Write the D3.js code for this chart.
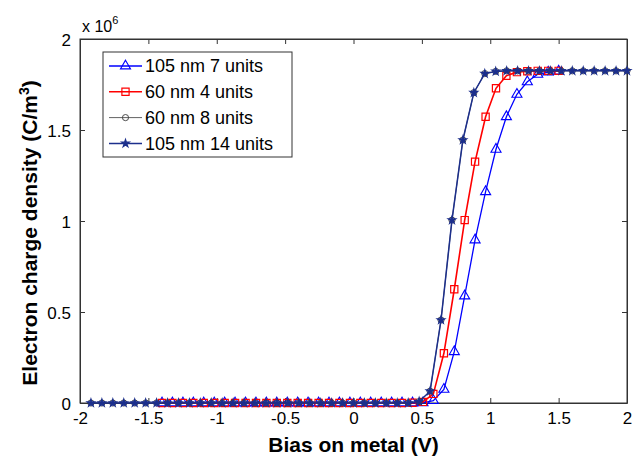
<!DOCTYPE html>
<html>
<head>
<meta charset="utf-8">
<script src="https://cdn.jsdelivr.net/npm/d3@7"></script>
<style>
  html, body { margin: 0; padding: 0; background: #fff; }
  svg { display: block; font-family: Arial, "Liberation Sans", sans-serif; }
</style>
</head>
<body>
<svg id="chart" width="633" height="456"></svg>
<script>
// ---------------- data (charge density in units of 1e6 C/m^3) ----------------
const xTicks = [-2, -1.5, -1, -0.5, 0, 0.5, 1, 1.5, 2];
const xTickLabels = ["-2", "-1.5", "-1", "-0.5", "0", "0.5", "1", "1.5", "2"];
const yTicks = [0, 0.5, 1, 1.5, 2];
const yTickLabels = ["0", "0.5", "1", "1.5", "2"];

// bias grid for 60 nm / 105 nm 7 units runs
const biasA = [-1.4, -1.324, -1.247, -1.171, -1.095, -1.018, -0.942, -0.866, -0.789, -0.713,
               -0.637, -0.561, -0.484, -0.408, -0.332, -0.255, -0.179, -0.103, -0.026, 0.05,
               0.126, 0.203, 0.279, 0.355, 0.432, 0.508, 0.584, 0.661, 0.737, 0.813,
               0.889, 0.966, 1.042, 1.118, 1.195, 1.271, 1.347, 1.424, 1.5];
// bias grid for the wider runs
const biasB = [-1.92, -1.84, -1.76, -1.68, -1.6, -1.52, -1.44, -1.36, -1.28, -1.2,
               -1.12, -1.04, -0.96, -0.88, -0.8, -0.72, -0.64, -0.56, -0.48, -0.4,
               -0.32, -0.24, -0.16, -0.08, 0, 0.08, 0.16, 0.24, 0.32, 0.4,
               0.48, 0.56, 0.64, 0.72, 0.8, 0.88, 0.96, 1.04, 1.12, 1.2,
               1.28, 1.36, 1.44, 1.52, 1.6, 1.68, 1.76, 1.84, 1.92, 2.0];

const nm105u7 = [0, 0, 0, 0, 0, 0, 0, 0, 0, 0,
                 0, 0, 0, 0, 0, 0, 0, 0, 0, 0,
                 0, 0, 0, 0, 0, 0.001, 0.013, 0.075, 0.282, 0.588,
                 0.896, 1.161, 1.394, 1.573, 1.696, 1.765, 1.806, 1.818, 1.823];
const nm60u4 = [0, 0, 0, 0, 0, 0, 0, 0, 0, 0,
                0, 0, 0, 0, 0, 0, 0, 0, 0, 0,
                0, 0, 0, 0, 0.001, 0.006, 0.05, 0.273, 0.625, 1.005,
                1.326, 1.573, 1.729, 1.798, 1.818, 1.823, 1.825, 1.825, 1.825];
const nm60u8 = [0, 0, 0, 0, 0, 0, 0, 0, 0, 0,
                0, 0, 0, 0, 0, 0, 0, 0, 0, 0,
                0, 0, 0, 0, 0, 0, 0, 0, 0, 0,
                0.008, 0.065, 0.456, 1.005, 1.445, 1.705, 1.81, 1.822, 1.825, 1.825,
                1.825, 1.825, 1.825, 1.825, 1.825, 1.825, 1.825, 1.825, 1.825, 1.825];
const nm105u14 = [0, 0, 0, 0, 0, 0, 0, 0, 0, 0,
                  0, 0, 0, 0, 0, 0, 0, 0, 0, 0,
                  0, 0, 0, 0, 0, 0, 0, 0, 0, 0,
                  0.008, 0.065, 0.456, 1.005, 1.445, 1.705, 1.81, 1.822, 1.825, 1.825,
                  1.825, 1.825, 1.825, 1.825, 1.825, 1.825, 1.825, 1.825, 1.825, 1.825];

const seriesNames = ["105 nm 7 units", "60 nm 4 units", "60 nm 8 units", "105 nm 14 units"];
const seriesColors = ["#0000ff", "#ff0000", "#3a3a3a", "#1c2f8c"];

// ---------------- layout ----------------
const svg = d3.select("#chart");
const L = 80, R = 627, T = 39, B = 403;
const x = d3.scaleLinear().domain([-2, 2]).range([L, R]);
const y = d3.scaleLinear().domain([0, 2]).range([B, T]);
const axisColor = "#333";

const series = [
  { name: seriesNames[0], color: seriesColors[0], xs: biasA, ys: nm105u7, sym: d3.symbolTriangle, size: 44, fill: "none", lw: 1.3, mlw: 1.1 },
  { name: seriesNames[1], color: seriesColors[1], xs: biasA, ys: nm60u4, sym: d3.symbolSquare, size: 52, fill: "none", lw: 1.6, mlw: 1.2 },
  { name: seriesNames[2], color: seriesColors[2], xs: biasB, ys: nm60u8, sym: d3.symbolCircle, size: 30, fill: "none", lw: 0.8, mlw: 0.9 },
  { name: seriesNames[3], color: seriesColors[3], xs: biasB, ys: nm105u14, sym: d3.symbolStar, size: 18, fill: seriesColors[3], lw: 1.5, mlw: 1.2 }
];

// box
svg.append("rect").attr("x", L).attr("y", T).attr("width", R - L).attr("height", B - T)
  .attr("fill", "#fff").attr("stroke", axisColor).attr("stroke-width", 1);

// ticks (inward on all sides) via d3 axes
const xAxisB = d3.axisBottom(x).tickValues(xTicks).tickFormat((d, i) => xTickLabels[i]).tickSizeInner(-5).tickSizeOuter(0).tickPadding(9);
const gxb = svg.append("g").attr("transform", `translate(0,${B})`).call(xAxisB);
const gxt = svg.append("g").attr("transform", `translate(0,${T})`).call(d3.axisTop(x).tickValues(xTicks).tickFormat("").tickSizeInner(-5).tickSizeOuter(0));
const yAxisL = d3.axisLeft(y).tickValues(yTicks).tickFormat((d, i) => yTickLabels[i]).tickSizeInner(-5).tickSizeOuter(0).tickPadding(9);
const gyl = svg.append("g").attr("transform", `translate(${L},0)`).call(yAxisL);
const gyr = svg.append("g").attr("transform", `translate(${R},0)`).call(d3.axisRight(y).tickValues(yTicks).tickFormat("").tickSizeInner(-5).tickSizeOuter(0));
[gxb, gxt, gyl, gyr].forEach(g => {
  g.select(".domain").attr("stroke", axisColor);
  g.selectAll(".tick line").attr("stroke", axisColor);
  g.selectAll("text").attr("fill", "#000").style("font-size", "17px").style("font-family", "Arial, 'Liberation Sans', sans-serif");
});
gyl.selectAll("text").attr("dy", "0.36em");

// exponent label
const ex = svg.append("text").attr("x", 82).attr("y", 32).style("font-size", "16px").attr("fill", "#000");
ex.append("tspan").text("x 10");
ex.append("tspan").attr("dy", -8).style("font-size", "11px").text("6");

// lines and markers
series.forEach(s => {
  const pts = s.xs.map((v, i) => [v, s.ys[i]]);
  svg.append("path").datum(pts)
    .attr("d", d3.line().x(d => x(d[0])).y(d => y(d[1])))
    .attr("fill", "none").attr("stroke", s.color).attr("stroke-width", s.lw);
  svg.append("g").selectAll("path").data(pts).join("path")
    .attr("transform", d => `translate(${x(d[0])},${y(d[1])})`)
    .attr("d", d3.symbol().type(s.sym).size(s.size))
    .attr("fill", s.fill === "none" ? "none" : s.fill)
    .attr("stroke", s.color).attr("stroke-width", s.mlw);
});

// legend
const lg = svg.append("g");
lg.append("rect").attr("x", 103).attr("y", 52).attr("width", 189).attr("height", 105)
  .attr("fill", "#fff").attr("stroke", axisColor).attr("stroke-width", 1);
series.forEach((s, i) => {
  const cy = 66 + i * 25.8;
  lg.append("line").attr("x1", 109).attr("x2", 142).attr("y1", cy).attr("y2", cy)
    .attr("stroke", s.color).attr("stroke-width", s.lw);
  lg.append("path").attr("transform", `translate(125.5,${cy})`)
    .attr("d", d3.symbol().type(s.sym).size(s.size))
    .attr("fill", s.fill).attr("stroke", s.color).attr("stroke-width", s.mlw);
  lg.append("text").attr("x", 145).attr("y", cy).attr("dy", "0.36em")
    .style("font-size", "18px").attr("fill", "#000").text(s.name);
});

// axis titles
svg.append("text").attr("x", (L + R) / 2).attr("y", 452).attr("text-anchor", "middle")
  .style("font-size", "21px").style("font-weight", "bold").text("Bias on metal (V)");
const yt = svg.append("text").attr("transform", `translate(37,${(T + B) / 2 + 12}) rotate(-90)`)
  .attr("text-anchor", "middle").style("font-size", "21px").style("font-weight", "bold");
yt.append("tspan").text("Electron charge density (C/m");
yt.append("tspan").attr("dy", -8).style("font-size", "14px").text("3");
yt.append("tspan").attr("dy", 8).text(")");
</script>
</body>
</html>
